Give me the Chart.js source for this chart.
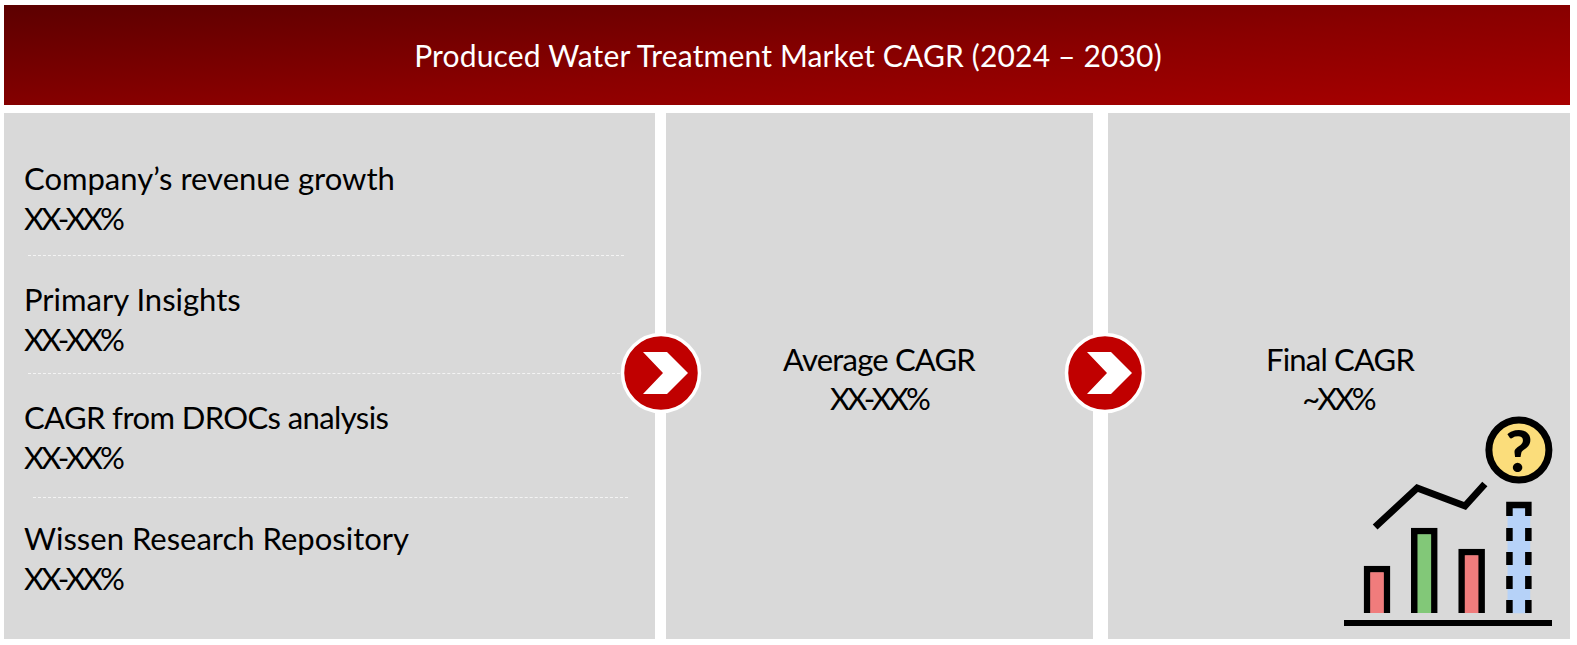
<!DOCTYPE html>
<html>
<head>
<meta charset="utf-8">
<title>Produced Water Treatment Market CAGR</title>
<script src="https://cdn.jsdelivr.net/npm/chart.js@4"></script>
<style>
  html, body { margin: 0; background: #fff; overflow: hidden; }
  body { width: 1577px; height: 645px; position: relative; font-family: Lato, "Open Sans", sans-serif; color: #000; }
  .box { position: absolute; background: #d9d9d9; }
  .txt { position: absolute; white-space: nowrap; font-size: 31px; line-height: 40px; }
  .center { transform: translateX(-50%); }
  .dash { position: absolute; height: 0; border-top: 1.5px dashed #f4f4f4; }
  #header {
    position: absolute; left: 4px; top: 5px; width: 1566px; height: 100px;
    background: linear-gradient(176deg, #5c0000 0%, #8a0000 55%, #a80000 100%);
  }
  #title { color: #fff; font-size: 30px; letter-spacing: 0.16px; }
  .arrow { position: absolute; }
  #icon { position: absolute; left: 1344px; top: 400px; }
  #mark { position: absolute; left: 1519px; top: 450px; transform: translate(-50%, -50%); font: 900 58px Lato, sans-serif; line-height: 58px; }
</style>
</head>
<body>
<div id="header"></div>
<div class="box" style="left:4px;top:113px;width:651px;height:526px"></div>
<div class="box" style="left:666px;top:113px;width:427px;height:526px"></div>
<div class="box" style="left:1108px;top:113px;width:462px;height:526px"></div>
<div class="txt center" id="title" style="left:788px;top:35px">Produced Water Treatment Market CAGR (2024 – 2030)</div>
<div id="rows"></div>
<canvas id="icon" width="216" height="233" style="width:216px;height:233px"></canvas>
<div id="mark">?</div>

<script>
const rowLabels = ["Company’s revenue growth", "Primary Insights", "CAGR from DROCs analysis", "Wissen Research Repository"];
const rowValues = ["XX-XX%", "XX-XX%", "XX-XX%", "XX-XX%"];
const rowTops = [158, 279, 397, 518];
const rowSpacing = [0, 0, -0.6, 0];
const averageLines = ["Average CAGR", "XX-XX%"];
const finalLines = ["Final CAGR", "~XX%"];

// icon data
const barX = [1, 2, 3];
const barHeights = [47, 85, 64];
const barColors = ["#f07c7c", "#82c878", "#f07c7c"];
const forecastHeight = 108;
const trendX = [0.96, 1.85, 2.86, 3.28];
const trendY = [86, 125, 107, 129];

const rows = document.getElementById("rows");

function addText(text, left, top, centered, spacing) {
  const el = document.createElement("div");
  el.className = centered ? "txt center" : "txt";
  el.style.left = left + "px";
  el.style.top = top + "px";
  el.style.letterSpacing = spacing + "px";
  el.textContent = text;
  rows.appendChild(el);
}

function addDash(left, right, top) {
  const el = document.createElement("div");
  el.className = "dash";
  el.style.left = left + "px";
  el.style.top = top + "px";
  el.style.width = right - left + "px";
  rows.appendChild(el);
}

function addArrow(cx, cy) {
  const el = document.createElementNS("http://www.w3.org/2000/svg", "svg");
  el.setAttribute("class", "arrow");
  el.setAttribute("width", 84);
  el.setAttribute("height", 84);
  el.style.left = cx - 42 + "px";
  el.style.top = cy - 42 + "px";
  el.innerHTML =
    '<circle cx="42" cy="42" r="38.5" fill="#c00000" stroke="#fff" stroke-width="3.5"/>' +
    '<polygon points="24,21 48,21 69,42 48,63 24,63 44,42" fill="#fff"/>';
  rows.appendChild(el);
}

rowLabels.forEach((label, i) => {
  addText(label, 24, rowTops[i], false, rowSpacing[i]);
  addText(rowValues[i], 24, rowTops[i] + 40, false, -2.9);
});
addDash(28, 624, 255);
addDash(28, 620, 373);
addDash(33, 628, 497);

addText(averageLines[0], 879, 339, true, -0.8);
addText(averageLines[1], 879, 378, true, -2.9);
addText(finalLines[0], 1340, 339, true, -0.8);
addText(finalLines[1], 1338, 378, true, -2.9);

addArrow(661, 373);
addArrow(1105, 373);

const lineBase = { type: "line", borderColor: "#000", pointRadius: 0, tension: 0, fill: false };

// chart.js paints the first dataset last, so the blue bar goes at the end
new Chart(document.getElementById("icon").getContext("2d"), {
  data: {
    datasets: [
      {
        type: "bar",
        data: barX.map((x, i) => ({ x: x, y: barHeights[i] })),
        backgroundColor: barColors,
        borderColor: "#000",
        borderWidth: 6.5,
        barThickness: 26,
        grouped: false,
      },
      { ...lineBase, data: [{ x: 3.8, y: 0 }, { x: 3.8, y: 85 }], borderWidth: 6.5, borderDash: [13, 11] },
      { ...lineBase, data: [{ x: 4.2, y: 0 }, { x: 4.2, y: 85 }], borderWidth: 6.5, borderDash: [13, 11] },
      {
        ...lineBase,
        data: [{ x: 3.8, y: 97 }, { x: 3.8, y: 108 }, { x: 4.2, y: 108 }, { x: 4.2, y: 97 }],
        borderWidth: 6.5,
      },
      { ...lineBase, data: trendX.map((x, i) => ({ x: x, y: trendY[i] })), borderWidth: 7 },
      { ...lineBase, data: [{ x: 0.302, y: -10 }, { x: 4.7, y: -10 }], borderWidth: 6 },
      {
        type: "line",
        data: [{ x: 4, y: 163 }],
        pointRadius: 30,
        pointBackgroundColor: "#fbdd7b",
        pointBorderColor: "#000",
        pointBorderWidth: 7,
        clip: false,
      },
      {
        type: "bar",
        data: [{ x: 4, y: forecastHeight }],
        backgroundColor: "#b6d2f8",
        barThickness: 22,
        grouped: false,
      },
    ],
  },
  options: {
    responsive: false,
    animation: false,
    layout: { padding: 0, autoPadding: false },
    plugins: { legend: { display: false }, tooltip: { enabled: false } },
    scales: {
      x: { type: "linear", display: false, offset: false, min: 0.302, max: 4.869 },
      y: { type: "linear", display: false, min: -20, max: 213 },
    },
  },
});
</script>
</body>
</html>
